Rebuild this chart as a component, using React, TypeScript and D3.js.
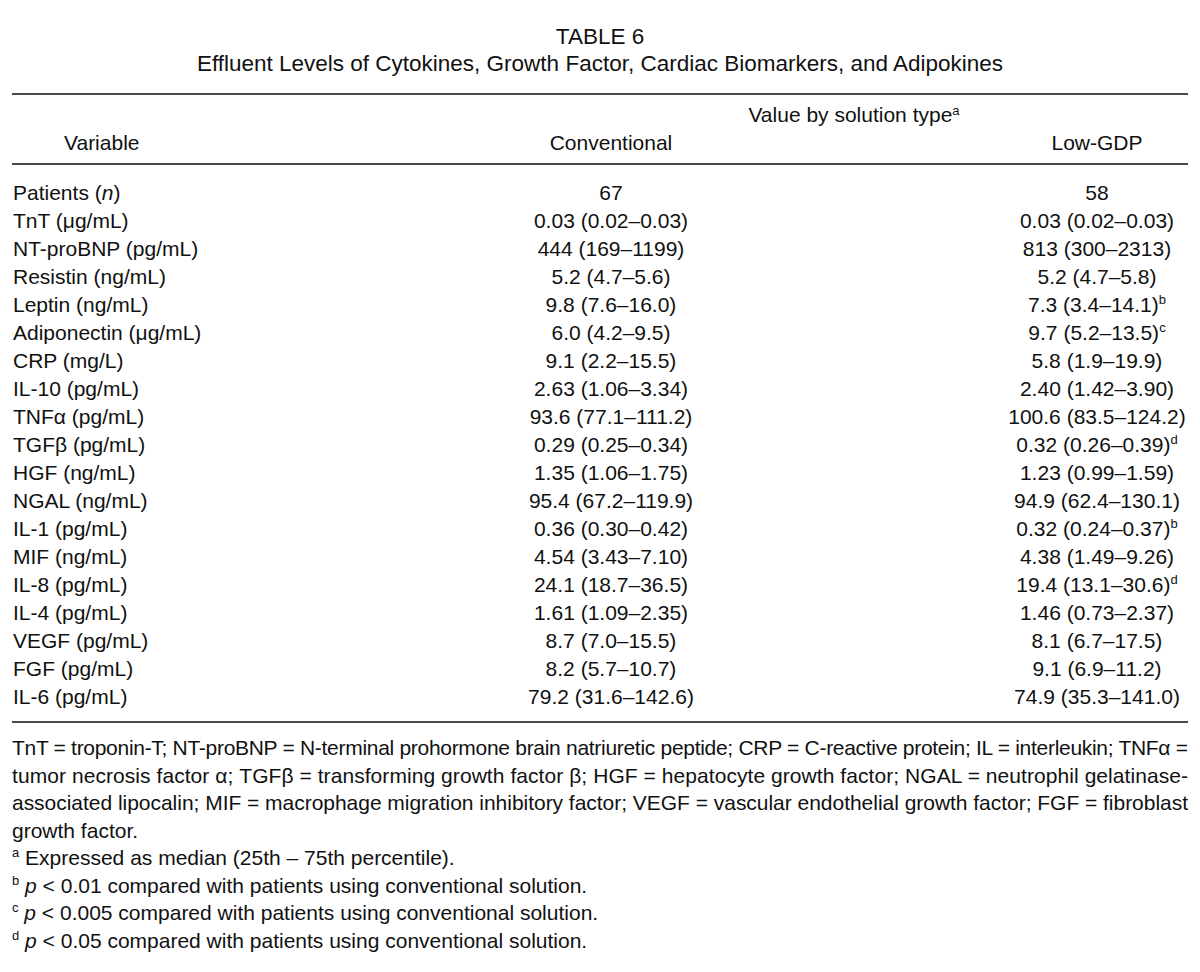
import React from "react";
import * as d3 from "d3";

const tableNumber = "TABLE 6";
const tableTitle = "Effluent Levels of Cytokines, Growth Factor, Cardiac Biomarkers, and Adipokines";
const groupHeader = "Value by solution type";
const columnHeaders = ["Variable", "Conventional", "Low-GDP"];

const variables = [
  "Patients", "TnT (μg/mL)", "NT-proBNP (pg/mL)", "Resistin (ng/mL)", "Leptin (ng/mL)",
  "Adiponectin (μg/mL)", "CRP (mg/L)", "IL-10 (pg/mL)", "TNFα (pg/mL)", "TGFβ (pg/mL)",
  "HGF (ng/mL)", "NGAL (ng/mL)", "IL-1 (pg/mL)", "MIF (ng/mL)", "IL-8 (pg/mL)",
  "IL-4 (pg/mL)", "VEGF (pg/mL)", "FGF (pg/mL)", "IL-6 (pg/mL)",
];

const conventionalValues = [
  "67", "0.03 (0.02–0.03)", "444 (169–1199)", "5.2 (4.7–5.6)", "9.8 (7.6–16.0)",
  "6.0 (4.2–9.5)", "9.1 (2.2–15.5)", "2.63 (1.06–3.34)", "93.6 (77.1–111.2)", "0.29 (0.25–0.34)",
  "1.35 (1.06–1.75)", "95.4 (67.2–119.9)", "0.36 (0.30–0.42)", "4.54 (3.43–7.10)", "24.1 (18.7–36.5)",
  "1.61 (1.09–2.35)", "8.7 (7.0–15.5)", "8.2 (5.7–10.7)", "79.2 (31.6–142.6)",
];

const lowGdpValues = [
  "58", "0.03 (0.02–0.03)", "813 (300–2313)", "5.2 (4.7–5.8)", "7.3 (3.4–14.1)",
  "9.7 (5.2–13.5)", "5.8 (1.9–19.9)", "2.40 (1.42–3.90)", "100.6 (83.5–124.2)", "0.32 (0.26–0.39)",
  "1.23 (0.99–1.59)", "94.9 (62.4–130.1)", "0.32 (0.24–0.37)", "4.38 (1.49–9.26)", "19.4 (13.1–30.6)",
  "1.46 (0.73–2.37)", "8.1 (6.7–17.5)", "9.1 (6.9–11.2)", "74.9 (35.3–141.0)",
];

const lowGdpMarks = [
  "", "", "", "", "b", "c", "", "", "", "d", "", "", "b", "", "d", "", "", "", "",
];

const abbreviationLines = [
  "TnT = troponin-T; NT-proBNP = N-terminal prohormone brain natriuretic peptide; CRP = C-reactive protein; IL = interleukin; TNFα =",
  "tumor necrosis factor α; TGFβ = transforming growth factor β; HGF = hepatocyte growth factor; NGAL = neutrophil gelatinase-",
  "associated lipocalin; MIF = macrophage migration inhibitory factor; VEGF = vascular endothelial growth factor; FGF = fibroblast",
  "growth factor.",
];

const footnoteMarks = ["a", "b", "c", "d"];
const footnoteItalic = ["", "p", "p", "p"];
const footnoteTexts = [
  "Expressed as median (25th – 75th percentile).",
  " < 0.01 compared with patients using conventional solution.",
  " < 0.005 compared with patients using conventional solution.",
  " < 0.05 compared with patients using conventional solution.",
];

const W = 1200;
const H = 972;
const FONT = "'Liberation Sans', Arial, sans-serif";
const INK = "#111";
const RULE = "#4a4a4a";
const LEFT = 12;
const RIGHT = 1188;

export default function App() {
  const colX = d3.scaleOrdinal<string, number>().domain(columnHeaders).range([13, 611, 1097]);
  const rowY = d3
    .scalePoint<number>()
    .domain(d3.range(variables.length))
    .range([200, 704]);
  const noteY = d3
    .scalePoint<number>()
    .domain(d3.range(abbreviationLines.length + footnoteMarks.length))
    .range([755, 948]);

  const fs = 21;
  const sup = 13;

  return (
    <svg
      width={W}
      height={H}
      viewBox={`0 0 ${W} ${H}`}
      style={{ position: "absolute", left: 0, top: 0, background: "#fff", display: "block" }}
      fontFamily={FONT}
      fill={INK}
    >
      <rect width={W} height={H} fill="#fff" />
      <text x={600} y={44} textAnchor="middle" fontSize={22.5}>{tableNumber}</text>
      <text x={600} y={71} textAnchor="middle" fontSize={22.5}>{tableTitle}</text>
      <line x1={LEFT} x2={RIGHT} y1={94} y2={94} stroke={RULE} strokeWidth={2} />

      <text x={(colX("Conventional") + colX("Low-GDP")) / 2} y={122} textAnchor="middle" fontSize={fs}>
        {groupHeader}
        <tspan fontSize={sup} dy={-7}>a</tspan>
      </text>
      <text x={64} y={150} fontSize={fs}>{columnHeaders[0]}</text>
      <text x={colX("Conventional")} y={150} textAnchor="middle" fontSize={fs}>{columnHeaders[1]}</text>
      <text x={colX("Low-GDP")} y={150} textAnchor="middle" fontSize={fs}>{columnHeaders[2]}</text>
      <line x1={LEFT} x2={RIGHT} y1={164} y2={164} stroke={RULE} strokeWidth={2} />

      {variables.map((v, i) => (
        <g key={v}>
          <text x={colX("Variable")} y={rowY(i)} fontSize={fs}>
            {i === 0 ? (
              <>
                {"Patients ("}
                <tspan fontStyle="italic">n</tspan>
                {")"}
              </>
            ) : (
              v
            )}
          </text>
          <text x={colX("Conventional")} y={rowY(i)} textAnchor="middle" fontSize={fs}>
            {conventionalValues[i]}
          </text>
          <text x={colX("Low-GDP")} y={rowY(i)} textAnchor="middle" fontSize={fs}>
            {lowGdpValues[i]}
            {lowGdpMarks[i] && (
              <tspan fontSize={sup} dy={-8}>{lowGdpMarks[i]}</tspan>
            )}
          </text>
        </g>
      ))}

      <line x1={LEFT} x2={RIGHT} y1={722} y2={722} stroke={RULE} strokeWidth={2} />

      {abbreviationLines.map((line, i) => (
        <text
          key={i}
          x={LEFT}
          y={noteY(i)}
          fontSize={fs}
          {...(i < abbreviationLines.length - 1
            ? { textLength: RIGHT - LEFT, lengthAdjust: "spacing" }
            : {})}
        >
          {line}
        </text>
      ))}

      {footnoteMarks.map((m, i) => (
        <text key={m} x={LEFT} y={noteY(abbreviationLines.length + i)} fontSize={fs}>
          <tspan fontSize={sup} dy={-8}>{m}</tspan>
          <tspan dy={8}>{" "}</tspan>
          {footnoteItalic[i] && <tspan fontStyle="italic">{footnoteItalic[i]}</tspan>}
          <tspan>{footnoteTexts[i]}</tspan>
        </text>
      ))}
    </svg>
  );
}
